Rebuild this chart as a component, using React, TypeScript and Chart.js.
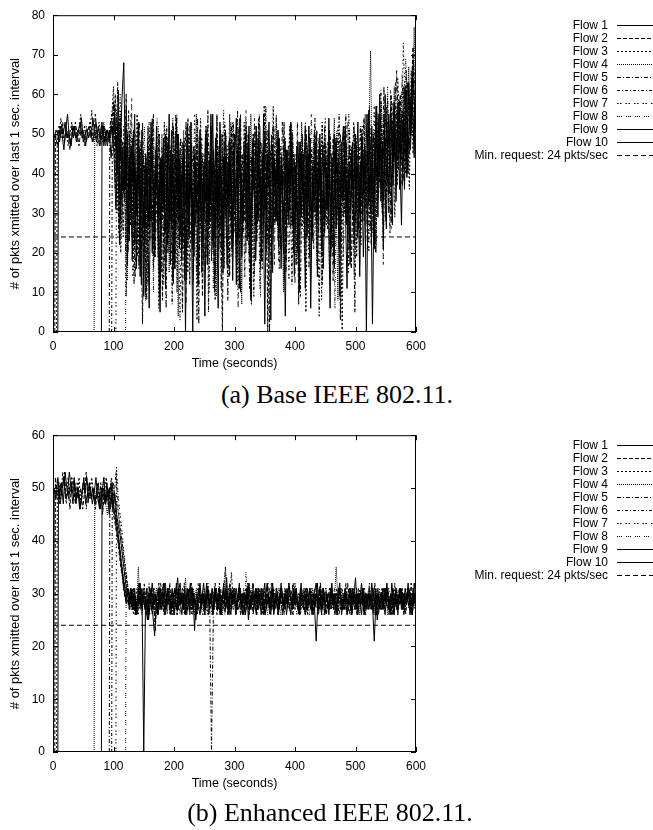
import React, { useEffect, useRef } from 'react';
import { Chart, registerables } from 'chart.js';

Chart.register(...registerables);

// ---------------- data ----------------
const FLOW_LABELS = ['Flow 1', 'Flow 2', 'Flow 3', 'Flow 4', 'Flow 5', 'Flow 6', 'Flow 7', 'Flow 8', 'Flow 9', 'Flow 10'];
const MIN_LABEL = 'Min. request: 24 pkts/sec';
const MIN_REQUEST = 24;
// time (s) each flow starts; samples follow at start+1, then every STEP seconds
const FLOW_START = [1, 3, 6, 68, 93, 97, 104, 120, 80, 8];
const A_STEP = 3;
const B_STEP = 3;
const X_MAX = 600;
const X_STEP = 100;
const A_Y_MAX = 80;
const B_Y_MAX = 60;
const Y_STEP = 10;
const X_TITLE = 'Time (seconds)';
const Y_TITLE = '# of pkts xmitted over last 1 sec. interval';
const CAPTION_A = '(a) Base IEEE 802.11.';
const CAPTION_B = '(b) Enhanced IEEE 802.11.';

// (a) Base IEEE 802.11 — one value every 3 s per flow
const A_FLOW_1 = [
  49, 51, 50, 48, 52, 50, 53, 49, 51, 47,
  50, 52, 49, 51, 50, 54, 48, 50, 51, 49,
  51, 48, 50, 53, 49, 47, 52, 50, 48, 51,
  50, 49, 52, 44, 31, 47, 22, 40, 36, 48,
  35, 26, 45, 18, 43, 30, 38, 46, 12, 33,
  24, 41, 28, 47, 20, 37, 44, 31, 9, 39,
  45, 25, 36, 48, 17, 42, 29, 34, 50, 21,
  38, 44, 13, 40, 27, 46, 33, 19, 43, 35,
  47, 28, 38, 4, 41, 30, 45, 23, 36, 49,
  26, 42, 34, 15, 44, 37, 29, 48, 21, 39,
  31, 46, 11, 40, 28, 43, 35, 50, 24, 37,
  44, 18, 33, 47, 26, 41, 2, 36, 45, 30,
  22, 43, 38, 27, 49, 16, 40, 34, 46, 29,
  37, 48, 20, 42, 31, 10, 45, 36, 27, 44,
  33, 49, 23, 38, 46, 14, 41, 30, 47, 25,
  40, 35, 6, 44, 29, 48, 36, 21, 42, 33,
  46, 27, 39, 17, 45, 32, 50, 24, 38, 43,
  30, 47, 0, 41, 36, 52, 28, 44, 39, 55,
  33, 48, 42, 26, 51, 45, 37, 56, 40, 49,
  58, 43, 52, 36, 61, 47, 55, 64, 50, 57,
  53,
];
const A_FLOW_2 = [
  50, 47, 52, 49, 53, 48, 51, 50, 46, 52,
  49, 53, 50, 47, 51, 49, 52, 48, 50, 53,
  51, 48, 55, 49, 50, 47, 52, 49, 51, 48,
  50, 53, 58, 36, 49, 25, 54, 41, 33, 60,
  27, 45, 38, 50, 29, 19, 47, 35, 2, 42,
  31, 52, 23, 46, 16, 39, 45, 28, 44, 8,
  37, 49, 20, 33, 51, 12, 43, 26, 48, 34,
  5, 40, 53, 22, 36, 47, 15, 31, 50, 27,
  44, 9, 38, 52, 24, 41, 18, 46, 33, 55,
  21, 35, 0, 48, 30, 43, 14, 52, 39, 25,
  47, 32, 10, 45, 28, 53, 37, 19, 42, 50,
  26, 38, 49, 16, 44, 33, 51, 0, 40, 48,
  35, 29, 46, 22, 41, 37, 53, 18, 43, 31,
  48, 24, 39, 45, 7, 36, 50, 28, 42, 34,
  19, 46, 38, 30, 51, 25, 43, 12, 40, 47,
  32, 44, 21, 49, 36, 27, 45, 3, 38, 52,
  29, 41, 47, 16, 35, 50, 42, 26, 39, 45,
  54, 31, 47, 38, 22, 50, 43, 57, 34, 46,
  40, 55, 28, 49, 44, 60, 37, 52, 47, 41,
  60, 37, 54, 45, 63, 51, 58, 72, 49, 62,
  55,
];
const A_FLOW_3 = [
  51, 49, 54, 50, 48, 52, 47, 50, 53, 49,
  52, 48, 51, 55, 50, 47, 52, 49, 50, 56,
  49, 51, 47, 53, 50, 48, 52, 50, 49, 51,
  54, 62, 45, 30, 53, 20, 38, 47, 9, 35,
  51, 24, 42, 31, 55, 16, 48, 37, 27, 44,
  12, 50, 34, 21, 46, 38, 6, 43, 29, 53,
  18, 40, 47, 26, 35, 50, 10, 44, 31, 22,
  49, 36, 15, 52, 41, 28, 46, 3, 38, 54,
  24, 33, 47, 19, 42, 51, 29, 8, 45, 37,
  26, 50, 16, 41, 34, 55, 23, 46, 30, 12,
  48, 39, 27, 53, 20, 44, 35, 7, 49, 31,
  42, 54, 25, 46, 37, 18, 51, 43, 29, 57,
  34, 40, 21, 47, 36, 13, 44, 30, 52, 27,
  39, 45, 17, 33, 48, 26, 41, 5, 37, 50,
  28, 43, 35, 20, 46, 39, 53, 24, 31, 45,
  14, 42, 36, 49, 27, 44, 32, 0, 47, 38,
  23, 51, 40, 30, 45, 19, 43, 36, 52, 28,
  46, 35, 57, 41, 25, 49, 38, 54, 44, 31,
  50, 42, 59, 35, 53, 47, 29, 56, 45, 52,
  48, 62, 40, 53, 36, 66, 45, 59, 51, 64,
];
const A_FLOW_4 = [
  51, 49, 52, 48, 50, 53, 47, 51, 49, 52,
  50, 57, 46, 38, 55, 26, 47, 33, 13, 50,
  40, 21, 45, 30, 52, 17, 43, 36, 8, 48,
  27, 41, 54, 23, 45, 32, 11, 50, 37, 26,
  47, 15, 42, 53, 29, 39, 4, 46, 34, 51,
  20, 43, 31, 48, 12, 40, 55, 25, 44, 35,
  18, 49, 29, 42, 52, 21, 37, 9, 47, 33,
  50, 26, 44, 16, 39, 53, 30, 45, 22, 51,
  36, 7, 48, 34, 43, 24, 55, 38, 14, 46,
  29, 52, 41, 27, 49, 35, 20, 46, 31, 40,
  54, 23, 44, 37, 10, 48, 32, 42, 26, 50,
  38, 17, 45, 30, 53, 41, 22, 47, 35, 13,
  43, 51, 28, 39, 46, 19, 36, 49, 31, 44,
  25, 41, 54, 33, 8, 47, 38, 29, 50, 42,
  21, 45, 36, 52, 30, 43, 17, 48, 39, 55,
  27, 49, 71, 33, 46, 20, 55, 40, 58, 36,
  47, 53, 30, 57, 44, 62, 38, 51, 45, 59,
  62, 44, 53, 67, 48, 59, 77, 50,
];
const A_FLOW_5 = [
  52, 55, 47, 60, 41, 53, 29, 48, 36, 57,
  20, 44, 32, 51, 14, 39, 47, 25, 53, 35,
  10, 46, 28, 41, 55, 19, 37, 50, 23, 43,
  31, 6, 48, 38, 26, 52, 16, 42, 34, 49,
  21, 45, 30, 54, 12, 40, 47, 27, 36, 2,
  50, 33, 43, 19, 56, 28, 38, 46, 14, 41,
  32, 51, 24, 45, 37, 8, 49, 29, 53, 35,
  18, 42, 55, 26, 40, 31, 47, 11, 44, 36,
  52, 23, 39, 48, 16, 57, 30, 45, 0, 50,
  34, 27, 46, 38, 21, 53, 42, 15, 44, 31,
  49, 36, 25, 47, 40, 9, 45, 33, 51, 28,
  42, 19, 38, 54, 30, 46, 35, 22, 48, 40,
  26, 51, 43, 13, 45, 37, 29, 50, 34, 41,
  55, 24, 39, 47, 32, 5, 44, 36, 52, 28,
  46, 38, 21, 53, 41, 30, 49, 57, 35, 44,
  41, 62, 34, 53, 47, 28, 58, 44, 66, 51,
  49, 56, 38, 61, 52, 45, 59, 70, 55, 63,
];
const A_FLOW_6 = [
  50, 58, 44, 63, 35, 51, 24, 46, 39, 56,
  27, 49, 12, 41, 35, 53, 19, 45, 30, 8,
  47, 37, 54, 22, 43, 29, 50, 15, 40, 33,
  52, 25, 46, 7, 38, 55, 31, 44, 20, 48,
  36, 13, 50, 41, 26, 47, 34, 54, 17, 39,
  45, 28, 51, 5, 43, 37, 22, 49, 32, 46,
  11, 40, 53, 27, 44, 35, 19, 48, 30, 56,
  24, 42, 36, 14, 51, 45, 29, 38, 9, 47,
  33, 55, 26, 43, 50, 20, 46, 38, 31, 52,
  28, 44, 16, 40, 35, 49, 23, 47, 37, 12,
  45, 30, 53, 25, 41, 36, 18, 50, 33, 46,
  39, 21, 48, 35, 4, 44, 31, 52, 27, 42,
  50, 34, 19, 46, 38, 55, 26, 43, 30, 47,
  15, 41, 36, 53, 28, 45, 39, 22, 49, 34,
  33, 55, 26, 43, 50, 20, 46, 38, 61, 31,
  49, 57, 40, 25, 54, 46, 63, 37, 59, 48,
  52, 45, 66, 40, 57, 50, 68, 60, 55,
];
const A_FLOW_7 = [
  56, 43, 60, 33, 52, 21, 47, 38, 55, 14,
  43, 30, 50, 25, 46, 37, 9, 41, 53, 28,
  45, 19, 39, 52, 33, 47, 12, 36, 49, 26,
  42, 54, 17, 44, 31, 3, 48, 37, 23, 51,
  35, 46, 28, 55, 15, 41, 33, 49, 24, 40,
  52, 10, 45, 38, 27, 50, 19, 43, 35, 56,
  29, 47, 14, 41, 53, 32, 44, 6, 49, 37,
  25, 51, 40, 18, 45, 33, 54, 28, 42, 11,
  48, 36, 57, 22, 46, 39, 52, 17, 55, 43,
  30, 45, 24, 49, 36, 13, 43, 51, 32, 40,
  21, 47, 38, 29, 53, 44, 16, 41, 35, 50,
  27, 39, 46, 8, 43, 54, 31, 37, 48, 22,
  45, 33, 52, 26, 40, 19, 47, 36, 55, 30,
  42, 14, 49, 38, 25, 51, 44, 33, 47, 20,
  48, 36, 57, 22, 46, 39, 52, 17, 55, 43,
  30, 61, 49, 56, 38, 64, 52, 46, 73, 58,
  45, 62, 53, 67, 50, 62,
];
const A_FLOW_8 = [
  55, 48, 32, 59, 26, 50, 41, 17, 46, 35,
  52, 22, 44, 31, 49, 10, 38, 54, 27, 42,
  36, 18, 51, 40, 29, 47, 13, 44, 55, 23,
  39, 48, 32, 7, 46, 35, 53, 20, 42, 30,
  49, 26, 44, 15, 52, 37, 28, 47, 11, 40,
  54, 33, 21, 45, 38, 50, 16, 43, 29, 48,
  35, 13, 52, 40, 25, 46, 56, 31, 19, 44,
  50, 27, 38, 53, 9, 45, 34, 57, 23, 41,
  37, 46, 29, 51, 18, 42, 35, 48, 26, 44,
  32, 53, 40, 12, 47, 36, 28, 50, 41, 24,
  46, 38, 55, 30, 43, 17, 49, 34, 52, 27,
  40, 48, 22, 45, 36, 6, 51, 39, 30, 47,
  33, 44, 53, 25, 41, 37, 19, 48, 42, 29,
  50, 35, 46, 28, 54, 40, 24, 49, 38, 45,
  48, 30, 55, 39, 62, 44, 26, 53, 47, 36,
  58, 50, 65, 43, 69, 55, 60, 52, 64, 57,
  60,
];
const A_FLOW_9 = [
  49, 52, 50, 47, 51, 44, 50, 53, 47, 51,
  44, 59, 68, 36, 50, 23, 47, 38, 55, 16,
  42, 30, 51, 9, 45, 34, 26, 53, 41, 19,
  48, 37, 5, 44, 31, 50, 22, 39, 46, 13,
  35, 54, 28, 43, 18, 47, 32, 52, 24, 40,
  0, 45, 36, 29, 51, 15, 42, 33, 49, 27,
  55, 38, 10, 46, 30, 53, 21, 44, 35, 17,
  48, 39, 26, 50, 12, 41, 54, 29, 37, 46,
  23, 52, 8, 43, 34, 25, 49, 40, 18, 55,
  31, 45, 36, 3, 47, 38, 28, 51, 33, 44,
  20, 46, 39, 27, 53, 35, 14, 42, 48, 30,
  43, 37, 52, 24, 45, 6, 40, 33, 50, 29,
  47, 21, 38, 44, 31, 54, 26, 41, 16, 49,
  36, 28, 45, 52, 34, 11, 43, 39, 48, 25,
  40, 53, 30, 46, 19, 37, 55, 32, 44, 2,
  38, 57, 29, 50, 44, 21, 60, 48, 35, 56,
  42, 51, 33, 58, 46, 27, 53, 62, 40, 49,
  46, 65, 58, 52,
];
const A_FLOW_10 = [
  48, 52, 50, 46, 51, 55, 49, 47, 52, 50,
  48, 51, 53, 49, 50, 47, 51, 52, 49, 54,
  50, 48, 52, 49, 53, 47, 50, 51, 48, 52,
  49, 55, 40, 61, 28, 46, 35, 52, 17, 44,
  30, 49, 22, 36, 53, 14, 41, 27, 45, 33,
  6, 47, 38, 25, 52, 19, 43, 31, 49, 11,
  36, 55, 28, 45, 16, 39, 50, 24, 34, 47,
  0, 41, 30, 53, 21, 45, 35, 12, 48, 39,
  27, 50, 17, 43, 32, 55, 25, 40, 6, 46,
  36, 22, 51, 38, 29, 47, 13, 42, 54, 31,
  45, 19, 37, 50, 26, 43, 9, 48, 34, 52,
  28, 41, 33, 47, 21, 39, 53, 30, 15, 44,
  37, 49, 25, 42, 32, 4, 46, 38, 51, 27,
  43, 35, 20, 48, 30, 45, 11, 39, 52, 33,
  24, 47, 41, 29, 50, 37, 16, 44, 34, 49,
  19, 37, 50, 26, 43, 9, 48, 34, 52, 28,
  41, 31, 45, 22, 47, 38, 14, 50, 35, 43,
  41, 56, 30, 47, 21, 52, 38, 60, 44, 33,
  49, 38, 55, 43, 27, 58, 46, 51, 36, 54,
  55, 47, 39, 63, 50, 58, 44, 69,
];

// (b) Enhanced IEEE 802.11 — one value every 3 s per flow
const B_FLOW_1 = [
  50, 48, 52, 49, 51, 47, 53, 50, 48, 51,
  49, 52, 47, 50, 46, 48, 51, 49, 52, 48,
  50, 47, 49, 52, 48, 46, 50, 49, 47, 51,
  48, 46, 49, 46, 44, 42, 39, 36, 33, 31,
  29, 28, 31, 27, 30, 26, 29, 32, 28, 30,
  27, 31, 25, 29, 32, 28, 30, 26, 31, 27,
  29, 32, 27, 30, 28, 31, 26, 29, 33, 28,
  30, 27, 31, 26, 29, 32, 28, 30, 25, 29,
  31, 27, 30, 28, 32, 26, 29, 31, 27, 30,
  28, 31, 26, 30, 29, 33, 27, 30, 28, 31,
  26, 29, 32, 27, 30, 28, 31, 25, 29, 30,
  27, 31, 28, 30, 26, 29, 32, 27, 30, 28,
  31, 26, 29, 30, 27, 32, 28, 30, 26, 29,
  30, 27, 31, 28, 29, 26, 32, 28, 30, 27,
  29, 31, 26, 30, 28, 32, 27, 29, 31, 26,
  30, 28, 29, 32, 27, 30, 26, 31, 28, 29,
  27, 30, 28, 31, 26, 29, 33, 27, 30, 28,
  31, 26, 29, 30, 28, 32, 27, 30, 25, 29,
  30, 27, 31, 28, 29, 26, 32, 28, 30, 27,
  29, 31, 27, 30, 28, 32, 26, 29, 31, 28,
  30,
];
const B_FLOW_2 = [
  52, 49, 47, 51, 50, 53, 48, 50, 46, 52,
  50, 47, 51, 48, 50, 46, 49, 53, 47, 51,
  48, 50, 46, 49, 47, 51, 45, 49, 48, 50,
  47, 49, 45, 43, 41, 38, 35, 33, 30, 28,
  31, 27, 30, 28, 26, 29, 32, 27, 30, 28,
  29, 26, 31, 28, 30, 23, 29, 27, 31, 28,
  26, 30, 28, 32, 27, 29, 31, 26, 30, 28,
  31, 27, 29, 30, 26, 32, 28, 29, 27, 31,
  28, 30, 26, 29, 31, 27, 30, 28, 32, 26,
  29, 31, 28, 27, 30, 26, 32, 29, 28, 30,
  27, 31, 29, 26, 30, 28, 31, 27, 29, 32,
  28, 26, 30, 31, 27, 29, 28, 32, 26, 30,
  29, 27, 31, 28, 30, 26, 29, 31, 28, 27,
  30, 32, 27, 29, 26, 31, 28, 30, 29, 27,
  31, 28, 26, 30, 29, 27, 32, 28, 30, 26,
  29, 31, 27, 30, 28, 26, 31, 29, 27, 30,
  28, 32, 29, 26, 30, 27, 31, 28, 30, 29,
  26, 30, 28, 31, 27, 29, 32, 26, 30, 28,
  31, 27, 29, 30, 28, 26, 31, 29, 27, 30,
  28, 31, 26, 30, 29, 27, 32, 28, 30, 27,
  29,
];
const B_FLOW_3 = [
  49, 51, 48, 53, 50, 47, 52, 49, 51, 48,
  50, 48, 52, 47, 49, 51, 46, 50, 48, 52,
  49, 47, 51, 48, 50, 46, 49, 52, 47, 50,
  48, 51, 47, 44, 40, 37, 34, 32, 29, 31,
  28, 30, 26, 29, 31, 27, 30, 28, 32, 26,
  30, 28, 31, 27, 29, 26, 30, 32, 28, 29,
  27, 31, 28, 30, 26, 29, 31, 27, 30, 28,
  32, 27, 29, 31, 26, 30, 28, 29, 31, 27,
  30, 26, 29, 32, 28, 30, 27, 31, 28, 29,
  26, 30, 28, 31, 27, 29, 34, 28, 30, 27,
  29, 31, 26, 30, 28, 32, 27, 29, 31, 28,
  30, 27, 29, 26, 31, 28, 30, 27, 32, 29,
  28, 30, 27, 31, 29, 26, 30, 28, 31, 27,
  29, 32, 28, 30, 26, 29, 31, 27, 30, 28,
  31, 26, 29, 30, 28, 32, 27, 29, 31, 28,
  27, 30, 29, 26, 31, 28, 30, 27, 29, 32,
  28, 31, 27, 30, 29, 26, 31, 28, 30, 27,
  30, 28, 32, 27, 29, 31, 26, 30, 28, 29,
  27, 31, 29, 28, 30, 26, 32, 28, 29, 31,
  28, 30, 27, 31, 29, 26, 30, 28, 31, 29,
];
const B_FLOW_4 = [
  47, 50, 48, 46, 49, 52, 47, 45, 50, 48,
  46, 49, 47, 45, 42, 40, 37, 34, 31, 29,
  31, 28, 30, 27, 35, 28, 26, 30, 29, 27,
  31, 28, 26, 29, 31, 28, 30, 27, 29, 32,
  28, 30, 27, 29, 26, 31, 28, 30, 29, 27,
  33, 28, 30, 28, 26, 29, 31, 27, 30, 28,
  29, 26, 31, 28, 30, 27, 29, 31, 28, 30,
  26, 29, 35, 28, 30, 27, 31, 28, 26, 30,
  29, 27, 31, 28, 30, 26, 29, 32, 28, 30,
  27, 29, 31, 26, 30, 28, 29, 27, 31, 28,
  30, 26, 29, 31, 28, 27, 30, 29, 26, 31,
  28, 30, 27, 29, 31, 28, 26, 30, 29, 27,
  31, 28, 30, 26, 29, 27, 31, 28, 30, 29,
  27, 30, 28, 35, 29, 31, 27, 30, 28, 26,
  30, 29, 27, 31, 28, 30, 26, 29, 31, 28,
  29, 27, 30, 28, 26, 31, 29, 28, 30, 27,
  31, 28, 26, 30, 29, 27, 31, 28, 30, 29,
  27, 30, 28, 31, 29, 27, 30, 28,
];
const B_FLOW_5 = [
  50, 52, 48, 46, 43, 40, 37, 34, 31, 29,
  28, 30, 27, 31, 26, 29, 28, 30, 27, 31,
  29, 26, 30, 28, 31, 27, 29, 32, 28, 30,
  27, 29, 31, 26, 30, 28, 29, 27, 31, 28,
  30, 26, 29, 31, 28, 27, 30, 29, 26, 31,
  28, 30, 27, 29, 31, 28, 0, 26, 30, 28,
  31, 27, 29, 28, 30, 26, 31, 29, 27, 30,
  28, 31, 26, 29, 30, 27, 32, 28, 29, 26,
  30, 28, 31, 27, 29, 26, 30, 28, 31, 29,
  27, 30, 28, 26, 31, 29, 27, 30, 28, 31,
  29, 26, 30, 28, 27, 31, 29, 28, 30, 26,
  31, 28, 29, 27, 30, 26, 31, 28, 29, 30,
  27, 29, 31, 28, 26, 30, 29, 27, 31, 28,
  30, 28, 26, 31, 29, 27, 30, 28, 29, 31,
  26, 30, 28, 29, 27, 31, 28, 30, 26, 29,
  31, 28, 30, 27, 29, 26, 31, 28, 30, 27,
  29, 31, 28, 26, 30, 29, 27, 31, 28, 30,
];
const B_FLOW_6 = [
  51, 48, 53, 47, 44, 41, 38, 35, 32, 30,
  28, 31, 27, 29, 26, 30, 28, 31, 29, 27,
  30, 28, 26, 31, 29, 27, 30, 28, 32, 27,
  29, 31, 28, 26, 30, 29, 27, 31, 28, 30,
  26, 29, 31, 27, 30, 28, 29, 26, 31, 28,
  30, 27, 29, 31, 28, 26, 30, 29, 27, 32,
  28, 30, 26, 29, 31, 27, 30, 28, 29, 27,
  31, 28, 30, 26, 29, 27, 31, 28, 30, 29,
  27, 30, 28, 31, 26, 29, 28, 30, 27, 31,
  29, 27, 30, 28, 26, 31, 29, 28, 30, 27,
  31, 28, 29, 26, 30, 28, 27, 31, 29, 30,
  28, 26, 30, 29, 31, 27, 28, 30, 26, 29,
  31, 28, 30, 27, 29, 26, 31, 28, 30, 29,
  27, 30, 28, 31, 29, 26, 30, 28, 29, 31,
  28, 27, 30, 29, 26, 31, 28, 30, 27, 29,
  30, 28, 31, 27, 29, 26, 30, 28, 31, 29,
  27, 30, 28, 29, 31, 26, 30, 28, 29,
];
const B_FLOW_7 = [
  54, 48, 45, 42, 38, 35, 32, 30, 28, 31,
  27, 29, 26, 30, 28, 31, 27, 29, 32, 28,
  30, 26, 29, 31, 28, 27, 30, 29, 26, 31,
  28, 30, 27, 29, 31, 26, 30, 28, 29, 27,
  31, 28, 30, 26, 29, 32, 27, 30, 28, 29,
  26, 30, 28, 31, 27, 29, 30, 28, 26, 31,
  35, 29, 27, 30, 28, 31, 26, 29, 30, 28,
  27, 31, 29, 26, 30, 28, 29, 27, 31, 28,
  30, 26, 29, 31, 28, 27, 30, 29, 28, 26,
  31, 28, 30, 27, 29, 32, 28, 26, 30, 29,
  27, 30, 28, 31, 29, 26, 30, 28, 27, 31,
  29, 28, 30, 26, 31, 27, 29, 30, 28, 27,
  31, 29, 26, 30, 28, 27, 31, 29, 30, 28,
  26, 30, 29, 27, 31, 28, 30, 26, 29, 31,
  28, 27, 30, 29, 26, 31, 28, 30, 27, 29,
  31, 28, 26, 30, 29, 27, 31, 28, 30, 26,
  29, 31, 28, 30, 27, 29,
];
const B_FLOW_8 = [
  34, 31, 28, 30, 27, 29, 26, 31, 28, 30,
  27, 29, 31, 26, 30, 28, 29, 27, 31, 28,
  30, 26, 29, 28, 31, 27, 30, 29, 26, 30,
  28, 31, 27, 29, 30, 26, 28, 31, 29, 27,
  30, 28, 26, 31, 29, 27, 30, 28, 29, 31,
  27, 30, 28, 26, 29, 31, 28, 30, 27, 29,
  31, 28, 30, 26, 29, 27, 34, 28, 30, 29,
  26, 30, 28, 31, 27, 29, 30, 28, 26, 31,
  29, 27, 30, 28, 31, 26, 29, 30, 28, 27,
  31, 29, 28, 30, 26, 29, 31, 27, 30, 28,
  29, 26, 30, 28, 31, 27, 29, 28, 30, 26,
  31, 28, 29, 27, 30, 28, 26, 31, 29, 30,
  28, 27, 30, 29, 26, 31, 28, 30, 27, 29,
  31, 28, 26, 30, 29, 27, 31, 28, 30, 29,
  27, 30, 28, 31, 26, 29, 30, 28, 27, 31,
  29, 28, 30, 26, 31, 29, 27, 30, 28, 29,
  30,
];
const B_FLOW_9 = [
  49, 52, 47, 50, 48, 51, 46, 49, 45, 43,
  41, 38, 35, 32, 30, 28, 31, 27, 29, 26,
  30, 28, 31, 0, 29, 27, 30, 28, 26, 22,
  29, 31, 27, 30, 28, 26, 31, 29, 27, 30,
  28, 32, 27, 29, 26, 30, 28, 31, 27, 29,
  31, 23, 30, 28, 26, 29, 32, 27, 30, 28,
  29, 27, 31, 28, 30, 26, 29, 31, 27, 30,
  28, 26, 30, 29, 31, 27, 28, 30, 26, 29,
  31, 28, 27, 30, 29, 26, 31, 28, 30, 27,
  29, 32, 28, 26, 30, 27, 31, 29, 28, 30,
  27, 29, 31, 28, 26, 30, 28, 31, 27, 29,
  30, 28, 26, 31, 29, 27, 30, 28, 21, 29,
  31, 27, 30, 28, 29, 26, 31, 28, 30, 27,
  29, 31, 28, 27, 30, 26, 29, 31, 28, 30,
  27, 30, 29, 26, 31, 28, 30, 27, 29, 28,
  21, 29, 31, 27, 30, 28, 26, 31, 29, 27,
  30, 28, 29, 26, 31, 27, 30, 28, 29, 31,
  28, 26, 30, 29,
];
const B_FLOW_10 = [
  51, 47, 50, 52, 48, 49, 53, 50, 47, 51,
  48, 50, 46, 49, 52, 47, 49, 51, 48, 50,
  47, 49, 51, 46, 48, 50, 47, 49, 45, 48,
  47, 45, 42, 40, 37, 34, 31, 29, 31, 27,
  30, 28, 31, 26, 29, 32, 27, 30, 28, 25,
  29, 31, 27, 30, 28, 26, 31, 29, 32, 27,
  30, 28, 26, 29, 31, 27, 30, 32, 28, 29,
  26, 30, 28, 31, 27, 29, 26, 30, 32, 28,
  29, 27, 31, 28, 30, 26, 29, 31, 27, 30,
  28, 32, 27, 29, 26, 31, 28, 30, 27, 29,
  31, 28, 30, 26, 29, 32, 27, 30, 28, 31,
  27, 29, 31, 28, 26, 30, 29, 27, 32, 28,
  30, 26, 29, 31, 27, 30, 28, 32, 29, 27,
  29, 31, 28, 26, 30, 27, 31, 29, 28, 30,
  27, 30, 32, 28, 29, 26, 31, 28, 30, 27,
  31, 28, 29, 27, 30, 32, 26, 29, 31, 28,
  29, 27, 31, 28, 30, 26, 29, 32, 28, 30,
  27, 30, 28, 31, 29, 26, 30, 28, 27, 31,
  29, 32, 27, 30, 28, 26, 31, 29, 28, 30,
  27, 31, 29, 28, 30, 26, 32, 29,
];

const A_FLOWS = [A_FLOW_1, A_FLOW_2, A_FLOW_3, A_FLOW_4, A_FLOW_5, A_FLOW_6, A_FLOW_7, A_FLOW_8, A_FLOW_9, A_FLOW_10];
const B_FLOWS = [B_FLOW_1, B_FLOW_2, B_FLOW_3, B_FLOW_4, B_FLOW_5, B_FLOW_6, B_FLOW_7, B_FLOW_8, B_FLOW_9, B_FLOW_10];

// ---------------- styles ----------------
const FONT = '"Liberation Sans", Arial, Helvetica, sans-serif';
const DASHES: number[][] = [
  [],
  [4, 2],
  [2, 2],
  [1, 1],
  [4, 2, 1, 2],
  [3, 2, 1, 2],
  [1.5, 1.5, 1.5, 4],
  [1, 1, 1, 1, 1, 4],
  [],
  [],
];
const MIN_DASH = [5, 3];

const framePlugin = {
  id: 'gnuFrame',
  afterDatasetsDraw(chart: any) {
    const { ctx, chartArea, scales } = chart;
    const { left, right, top, bottom } = chartArea;
    const tl = 5;
    ctx.save();
    ctx.strokeStyle = '#000';
    ctx.lineWidth = 1;
    ctx.setLineDash([]);
    ctx.beginPath();
    for (const t of scales.x.ticks) {
      const px = Math.round(scales.x.getPixelForValue(t.value)) + 0.5;
      ctx.moveTo(px, bottom);
      ctx.lineTo(px, bottom - tl);
      ctx.moveTo(px, top);
      ctx.lineTo(px, top + tl);
    }
    for (const t of scales.y.ticks) {
      const py = Math.round(scales.y.getPixelForValue(t.value)) + 0.5;
      ctx.moveTo(left, py);
      ctx.lineTo(left + tl, py);
      ctx.moveTo(right, py);
      ctx.lineTo(right - tl, py);
    }
    ctx.stroke();
    ctx.strokeRect(left + 0.5, top + 0.5, right - left - 1, bottom - top - 1);
    ctx.restore();
  },
  afterDraw(chart: any) {
    const { ctx } = chart;
    const textRight = 608;
    const lineX0 = 617;
    const lineX1 = 653;
    const y0 = 25;
    const rowH = 13;
    ctx.save();
    ctx.font = '12px ' + FONT;
    ctx.fillStyle = '#000';
    ctx.textAlign = 'right';
    ctx.textBaseline = 'middle';
    chart.data.datasets.forEach((ds: any, i: number) => {
      const y = y0 + rowH * i;
      ctx.fillText(ds.label, textRight, y + 0.5);
      ctx.beginPath();
      ctx.strokeStyle = '#000';
      ctx.lineWidth = 1;
      ctx.setLineDash(ds.borderDash || []);
      ctx.moveTo(lineX0, Math.round(y) + 0.5);
      ctx.lineTo(lineX1, Math.round(y) + 0.5);
      ctx.stroke();
    });
    ctx.restore();
  },
};

function Plot({ flows, step, yMax, top }: { flows: number[][]; step: number; yMax: number; top: number }) {
  const ref = useRef<HTMLCanvasElement | null>(null);
  useEffect(() => {
    if (!ref.current) return;
    const datasets: any[] = flows.map((vals, k) => ({
      label: FLOW_LABELS[k],
      data: [
        { x: FLOW_START[k], y: 0 },
        ...vals.map((v, i) => ({ x: FLOW_START[k] + 1 + step * i, y: v })),
      ],
      borderColor: '#000',
      borderWidth: 1,
      borderDash: DASHES[k],
      pointRadius: 0,
      tension: 0,
      fill: false,
    }));
    datasets.push({
      label: MIN_LABEL,
      data: [
        { x: 0, y: MIN_REQUEST },
        { x: X_MAX, y: MIN_REQUEST },
      ],
      borderColor: '#000',
      borderWidth: 1,
      borderDash: MIN_DASH,
      pointRadius: 0,
      fill: false,
    });
    const chart = new Chart(ref.current, {
      type: 'line',
      data: { datasets },
      options: {
        responsive: false,
        animation: false,
        events: [],
        layout: { padding: { top: 13, right: 237, left: 0, bottom: 0 } },
        plugins: { legend: { display: false }, tooltip: { enabled: false } },
        scales: {
          x: {
            type: 'linear',
            min: 0,
            max: X_MAX,
            grid: { display: false, drawTicks: false },
            border: { display: false },
            ticks: { stepSize: X_STEP, color: '#000', padding: 7, maxRotation: 0, font: { size: 12, family: FONT } },
            title: { display: true, text: X_TITLE, color: '#000', font: { size: 12.5, family: FONT }, padding: { top: 0, bottom: 8.5 } },
            afterFit: (s: any) => { s.height = 48; },
          },
          y: {
            type: 'linear',
            min: 0,
            max: yMax,
            grid: { display: false, drawTicks: false },
            border: { display: false },
            ticks: { stepSize: Y_STEP, color: '#000', padding: 8, font: { size: 12, family: FONT } },
            title: { display: true, text: Y_TITLE, color: '#000', font: { size: 13, family: FONT }, padding: { top: 7.5, bottom: 0 } },
            afterFit: (s: any) => { s.width = 53; },
          },
        },
      } as any,
      plugins: [framePlugin],
    });
    return () => chart.destroy();
  }, [flows, step, yMax]);
  return (
    <canvas
      ref={ref}
      width={653}
      height={380}
      style={{ position: 'absolute', left: 0, top, width: 653, height: 380, display: 'block' }}
    />
  );
}

const captionStyle: React.CSSProperties = {
  position: 'absolute',
  width: 400,
  textAlign: 'center',
  fontFamily: '"Liberation Serif", "Times New Roman", Times, serif',
  fontSize: 26,
  lineHeight: '26px',
  color: '#000',
  whiteSpace: 'nowrap',
};

export default function App() {
  useEffect(() => {
    document.body.style.margin = '0';
  }, []);
  return (
    <div style={{ position: 'absolute', left: 0, top: 0, width: 653, height: 830, background: '#fff', overflow: 'hidden' }}>
      <Plot flows={A_FLOWS} step={A_STEP} yMax={A_Y_MAX} top={0} />
      <Plot flows={B_FLOWS} step={B_STEP} yMax={B_Y_MAX} top={420} />
      <div style={{ ...captionStyle, left: 337 - 200, top: 382 }}>{CAPTION_A}</div>
      <div style={{ ...captionStyle, left: 330 - 200, top: 800 }}>{CAPTION_B}</div>
    </div>
  );
}
